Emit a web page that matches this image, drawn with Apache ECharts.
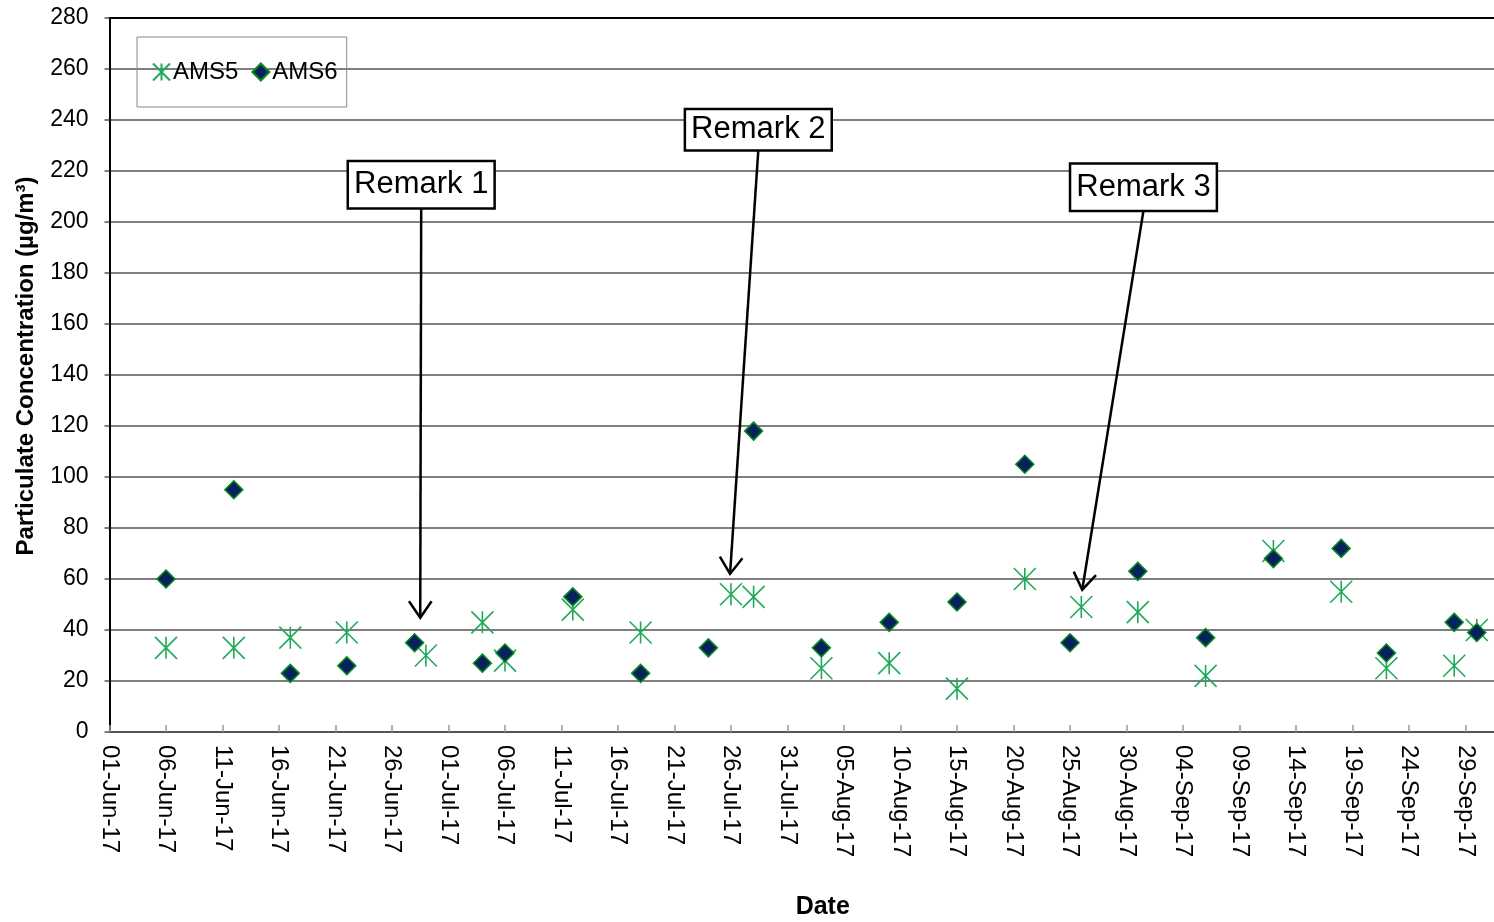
<!DOCTYPE html>
<html>
<head>
<meta charset="utf-8">
<script src="https://cdn.jsdelivr.net/npm/echarts@6/dist/echarts.min.js"></script>
<style>
html,body{margin:0;padding:0;background:#fff;}
#c{width:1494px;height:922px;}
</style>
</head>
<body>
<div id="c"></div>
<script>
// ---- data ----
const startDate = '2017-06-01';
const ams5Dates = ['2017-06-06','2017-06-12','2017-06-17','2017-06-22','2017-06-29','2017-07-04','2017-07-06','2017-07-12','2017-07-18','2017-07-26','2017-07-28','2017-08-03','2017-08-09','2017-08-15','2017-08-21','2017-08-26','2017-08-31','2017-09-06','2017-09-12','2017-09-18','2017-09-22','2017-09-28','2017-09-30'];
const ams5Values = [33,33,37,39,30,43,28,48,39,54,53,25,27,17,60,49,47,22,71,55,25,26,40];
const ams6Dates = ['2017-06-06','2017-06-12','2017-06-17','2017-06-22','2017-06-28','2017-07-04','2017-07-06','2017-07-12','2017-07-18','2017-07-24','2017-07-28','2017-08-03','2017-08-09','2017-08-15','2017-08-21','2017-08-25','2017-08-31','2017-09-06','2017-09-12','2017-09-18','2017-09-22','2017-09-28','2017-09-30'];
const ams6Values = [60,95,23,26,35,27,31,53,23,33,118,33,43,51,105,35,63,37,68,72,31,43,39];
const yTicks = [0,20,40,60,80,100,120,140,160,180,200,220,240,260,280];
const remarkTexts = ['Remark 1','Remark 2','Remark 3'];
const remarkBoxDates = ['2017-06-28T14:00','2017-07-28T10:00','2017-08-31T12:00'];
const remarkBoxValues = [214.6, 236.2, 213.6];
const remarkTipDates = ['2017-06-28T12:00','2017-07-25T22:00','2017-08-26T02:00'];
const remarkTipValues = [44.8, 62, 55.8];

const MONTHS = ['Jan','Feb','Mar','Apr','May','Jun','Jul','Aug','Sep','Oct','Nov','Dec'];
const DAY = 86400000;
const t0 = Date.parse(startDate + 'T00:00:00Z');
function dayIndex(s){ const str = s.length === 10 ? s + 'T00:00:00Z' : s + ':00Z'; return (Date.parse(str) - t0) / DAY; }
function fmt(d){
  const dt = new Date(t0 + d * DAY);
  const dd = String(dt.getUTCDate()).padStart(2,'0');
  return dd + '-' + MONTHS[dt.getUTCMonth()] + '-' + String(dt.getUTCFullYear()).slice(2);
}
const ams5Data = ams5Dates.map((d,i)=>[dayIndex(d), ams5Values[i]]);
const ams6Data = ams6Dates.map((d,i)=>[dayIndex(d), ams6Values[i]]);

const FONT = '"Liberation Sans", Arial, sans-serif';
const asterisk = 'path://M11,0L11,22M0,0L22,22M0,22L22,0';
const chart = echarts.init(document.getElementById('c'));
const X_MAX = 125;
const PX_PER_DAY = 11.30;

chart.setOption({
  animation: false,
  backgroundColor: '#fff',
  grid: { left: 109.5, top: 18, height: 714, width: X_MAX * PX_PER_DAY, outerBoundsMode: 'none', containLabel: false },
  legend: {
    left: 137, top: 37,
    padding: [23, 9, 23, 15],
    borderColor: '#888', borderWidth: 1,
    itemGap: 13, itemWidth: 17, itemHeight: 17,
    textStyle: { fontFamily: FONT, fontSize: 24, color: '#000', padding: [0,0,0,-2] },
    data: ['AMS5','AMS6']
  },
  xAxis: [{
    type: 'value', min: 0, max: X_MAX, interval: 5,
    axisLine: { lineStyle: { color: '#555', width: 2 } },
    axisTick: { inside: true, length: 7, lineStyle: { color: '#999', width: 1.5 } },
    splitLine: { show: false },
    axisLabel: {
      rotate: -90, margin: 13, fontFamily: FONT, fontSize: 24, color: '#000',
      formatter: v => (v % 5 === 0 ? fmt(v) : '')
    },
    name: 'Date', nameLocation: 'middle', nameGap: 163,
    nameTextStyle: { fontFamily: FONT, fontSize: 25, fontWeight: 'bold', color: '#000', padding: [0, 0, 0, 14] }
  }, {
    type: 'value', position: 'top', min: 0, max: X_MAX,
    axisLine: { lineStyle: { color: '#000', width: 2 } },
    axisTick: { show: false }, axisLabel: { show: false }, splitLine: { show: false }
  }],
  yAxis: {
    type: 'value', min: 0, max: 280, interval: 20,
    axisLine: { show: true, lineStyle: { color: '#000', width: 2 } },
    axisTick: { show: true, length: 5, lineStyle: { color: '#555', width: 1.5 } },
    splitLine: { lineStyle: { color: '#555', width: 1.5 } },
    axisLabel: { margin: 21, fontFamily: FONT, fontSize: 23, color: '#000',
      formatter: v => (yTicks.indexOf(v) >= 0 ? String(v) : '') },
    name: 'Particulate Concentration (µg/m³)', nameLocation: 'middle', nameGap: 71,
    nameTextStyle: { fontFamily: FONT, fontSize: 24, fontWeight: 'bold', color: '#000', padding: [0, 0, 0, 18] }
  },
  series: [{
    name: 'AMS5', type: 'scatter', data: ams5Data,
    symbol: asterisk, symbolSize: 22,
    itemStyle: { color: 'rgba(0,0,0,0)', borderColor: '#1faa5a', borderWidth: 1.6, opacity: 1 },
    z: 2
  }, {
    name: 'AMS6', type: 'scatter', data: ams6Data,
    symbol: 'diamond', symbolSize: 18,
    itemStyle: { color: '#06215c', borderColor: '#0a8a1e', borderWidth: 1.5, opacity: 1 },
    z: 3
  }]
});

// annotations anchored in data space
const g = [];
remarkTexts.forEach((txt, i) => {
  const c = chart.convertToPixel({ gridIndex: 0 }, [dayIndex(remarkBoxDates[i]), remarkBoxValues[i]]);
  const tip = chart.convertToPixel({ gridIndex: 0 }, [dayIndex(remarkTipDates[i]), remarkTipValues[i]]);
  const padV = i === 1 ? 4 : 7;
  const boxH = 31 + 2 * padV;
  g.push({
    type: 'text', x: c[0], y: c[1], z: 10,
    style: {
      text: txt, font: '31px ' + FONT, fill: '#000',
      align: 'center', verticalAlign: 'middle',
      backgroundColor: '#fff', borderColor: '#000', borderWidth: 2.5,
      padding: [padV, 5, padV, 5]
    }
  });
  const sx = c[0], sy = c[1] + boxH / 2 + 1;
  g.push({ type: 'line', z: 9, shape: { x1: sx, y1: sy, x2: tip[0], y2: tip[1] }, style: { stroke: '#000', lineWidth: 2.5 } });
  const ang = Math.atan2(tip[1] - sy, tip[0] - sx);
  const L = 20, a = 0.6;
  const p1 = [tip[0] - L * Math.cos(ang - a), tip[1] - L * Math.sin(ang - a)];
  const p2 = [tip[0] - L * Math.cos(ang + a), tip[1] - L * Math.sin(ang + a)];
  g.push({ type: 'polyline', z: 9, shape: { points: [p1, tip, p2] }, style: { stroke: '#000', lineWidth: 2.5, fill: null } });
});
chart.setOption({ graphic: g });
</script>
</body>
</html>
